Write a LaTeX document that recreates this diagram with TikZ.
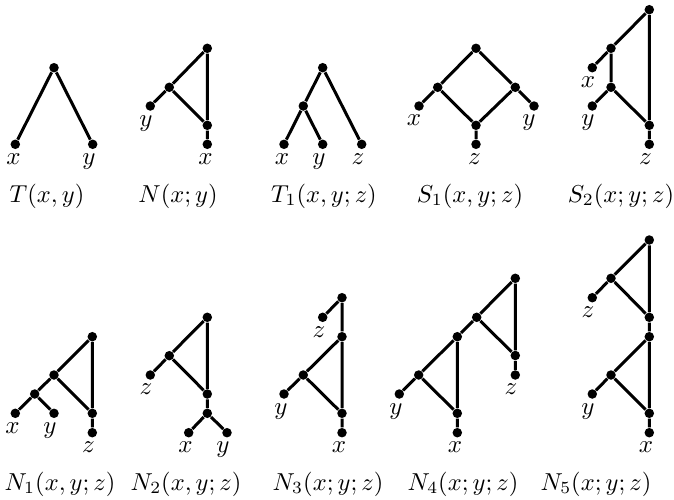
\documentclass[tikz,border=0pt]{standalone}
\tikzset{
  dot/.style={circle,fill=black,inner sep=0pt,minimum size=3.8pt},
  ln/.style={line width=1.2pt,black},
  lab/.style={inner sep=0pt,anchor=base},
  captxt/.style={inner sep=0pt,anchor=center,scale=0.98,transform shape}
}
\begin{document}
\begin{tikzpicture}[x=0.4pt,y=-0.4pt]
\useasboundingbox (0,0) rectangle (674,500);
% ---------- T(x,y)
\node[dot] (Tr) at (54,67.7) {};
\node[dot] (Tx) at (15.3,144.3) {};
\node[dot] (Ty) at (92.7,144.3) {};
\draw[ln] (Tr) -- (Tx) (Tr) -- (Ty);
\node[lab] (Tlx) at (13.5,164) {$x$};
\node[lab] (Tly) at (89,164) {$y$};
\node[captxt] (Tc) at (47,196) {$T(x,y)$};
% ---------- N(x;y)
\node[dot] (Nr) at (207.3,48.3) {};
\node[dot] (Na) at (169.3,87.3) {};
\node[dot] (Ny) at (150.3,106) {};
\node[dot] (Nb) at (207.3,125.3) {};
\node[dot] (Nx) at (207.3,144.3) {};
\draw[ln] (Nr) -- (Na) (Na) -- (Ny) (Na) -- (Nb) (Nr) -- (Nb) (Nb) -- (Nx);
\node[lab] (Nly) at (146,126) {$y$};
\node[lab] (Nlx) at (205.5,164) {$x$};
\node[captxt] (Nc) at (178,196) {$N(x;y)$};
% ---------- T1(x,y;z)
\node[dot] (Ar) at (322.7,67.7) {};
\node[dot] (Aa) at (303.3,106) {};
\node[dot] (Ax) at (284,144.3) {};
\node[dot] (Ay) at (322.7,144.3) {};
\node[dot] (Az) at (361.7,144.3) {};
\draw[ln] (Ar) -- (Aa) (Aa) -- (Ax) (Aa) -- (Ay) (Ar) -- (Az);
\node[lab] (Alx) at (282,164) {$x$};
\node[lab] (Aly) at (319,164) {$y$};
\node[lab] (Alz) at (358,164) {$z$};
\node[captxt] (Ac) at (324,196) {$T_1(x,y;z)$};
% ---------- S1(x,y;z)
\node[dot] (Sr) at (476,48.3) {};
\node[dot] (Sa) at (437.7,87.3) {};
\node[dot] (Sb) at (515.3,87.3) {};
\node[dot] (Sx) at (419,106) {};
\node[dot] (Sy) at (534,106) {};
\node[dot] (Sc) at (476,125.3) {};
\node[dot] (Sz) at (476,144.3) {};
\draw[ln] (Sr) -- (Sa) (Sr) -- (Sb) (Sa) -- (Sx) (Sb) -- (Sy) (Sa) -- (Sc) (Sb) -- (Sc) (Sc) -- (Sz);
\node[lab] (Slx) at (414,125) {$x$};
\node[lab] (Sly) at (529,125) {$y$};
\node[lab] (Slz) at (474.5,164) {$z$};
\node[captxt] (Scap) at (470,196) {$S_1(x,y;z)$};
% ---------- S2(x;y;z)
\node[dot] (Qr) at (649.3,9.7) {};
\node[dot] (Qa) at (611,48.3) {};
\node[dot] (Qx) at (592.3,67.7) {};
\node[dot] (Qb) at (611,87.3) {};
\node[dot] (Qy) at (592.3,106) {};
\node[dot] (Qc) at (649.3,125.3) {};
\node[dot] (Qz) at (649.3,144.3) {};
\draw[ln] (Qr) -- (Qa) (Qa) -- (Qx) (Qa) -- (Qb) (Qb) -- (Qy) (Qb) -- (Qc) (Qr) -- (Qc) (Qc) -- (Qz);
\node[lab] (Qlx) at (588,87) {$x$};
\node[lab] (Qly) at (588,125) {$y$};
\node[lab] (Qlz) at (645.5,164) {$z$};
\node[captxt] (Qcap) at (621,196) {$S_2(x;y;z)$};
% ---------- N1(x,y;z)
\node[dot] (Br) at (92.3,336.7) {};
\node[dot] (Ba) at (54,375) {};
\node[dot] (Bb) at (34.7,394) {};
\node[dot] (Bx) at (15.3,413.3) {};
\node[dot] (By) at (54,413.3) {};
\node[dot] (Bc) at (92.3,413.3) {};
\node[dot] (Bz) at (92.3,432.7) {};
\draw[ln] (Br) -- (Ba) (Ba) -- (Bb) (Bb) -- (Bx) (Bb) -- (By) (Ba) -- (Bc) (Br) -- (Bc) (Bc) -- (Bz);
\node[lab] (Blx) at (12.5,433) {$x$};
\node[lab] (Bly) at (50,433) {$y$};
\node[lab] (Blz) at (88.5,452) {$z$};
\node[captxt] (Bcap) at (60,484) {$N_1(x,y;z)$};
% ---------- N2(x,y;z)
\node[dot] (Cr) at (207.3,317.3) {};
\node[dot] (Ca) at (169.3,355.7) {};
\node[dot] (Cz) at (150.3,375) {};
\node[dot] (Cb) at (207.3,394) {};
\node[dot] (Cc) at (207.3,413.3) {};
\node[dot] (Cx) at (188.7,432.7) {};
\node[dot] (Cy) at (227,432.7) {};
\draw[ln] (Cr) -- (Ca) (Ca) -- (Cz) (Ca) -- (Cb) (Cr) -- (Cb) (Cb) -- (Cc) (Cc) -- (Cx) (Cc) -- (Cy);
\node[lab] (Clz) at (146,394) {$z$};
\node[lab] (Clx) at (185.5,452) {$x$};
\node[lab] (Cly) at (223,452) {$y$};
\node[captxt] (Ccap) at (186,484) {$N_2(x,y;z)$};
% ---------- N3(x;y;z)
\node[dot] (Dr) at (342,297.7) {};
\node[dot] (Dz) at (322.7,317.3) {};
\node[dot] (Db) at (342,336.7) {};
\node[dot] (Da) at (303.3,375) {};
\node[dot] (Dy) at (284,394) {};
\node[dot] (Dc) at (342,413.3) {};
\node[dot] (Dx) at (342,432.7) {};
\draw[ln] (Dr) -- (Dz) (Dr) -- (Db) (Db) -- (Da) (Da) -- (Dy) (Da) -- (Dc) (Db) -- (Dc) (Dc) -- (Dx);
\node[lab] (Dlz) at (319,337) {$z$};
\node[lab] (Dly) at (281,414) {$y$};
\node[lab] (Dlx) at (339,452) {$x$};
\node[captxt] (Dcap) at (328,484) {$N_3(x;y;z)$};
% ---------- N4(x;y;z)
\node[dot] (Er) at (515.3,278.3) {};
\node[dot] (Ea) at (476.7,317.3) {};
\node[dot] (Eb) at (457.3,336.7) {};
\node[dot] (Ee) at (515.3,355.5) {};
\node[dot] (Ec) at (418.7,375) {};
\node[dot] (Ez) at (515.3,375) {};
\node[dot] (Ey) at (399.3,394) {};
\node[dot] (Ed) at (457.3,413.3) {};
\node[dot] (Ex) at (457.3,432.7) {};
\draw[ln] (Er) -- (Ea) (Ea) -- (Eb) (Eb) -- (Ec) (Ec) -- (Ey) (Ec) -- (Ed) (Eb) -- (Ed) (Ed) -- (Ex) (Ea) -- (Ee) (Er) -- (Ee) (Ee) -- (Ez);
\node[lab] (Ely) at (396,414) {$y$};
\node[lab] (Elx) at (455,452) {$x$};
\node[lab] (Elz) at (511,394) {$z$};
\node[captxt] (Ecap) at (463,484) {$N_4(x;y;z)$};
% ---------- N5(x;y;z)
\node[dot] (Fr) at (649.3,240) {};
\node[dot] (Fa) at (611,278.3) {};
\node[dot] (Fz) at (592.3,297.7) {};
\node[dot] (Fb) at (649.3,317.3) {};
\node[dot] (Fc) at (649.3,336.7) {};
\node[dot] (Fd) at (611,375) {};
\node[dot] (Fy) at (592.3,394) {};
\node[dot] (Fe) at (649.3,413.3) {};
\node[dot] (Fx) at (649.3,432.7) {};
\draw[ln] (Fr) -- (Fa) (Fa) -- (Fz) (Fa) -- (Fb) (Fr) -- (Fb) (Fb) -- (Fc) (Fc) -- (Fd) (Fd) -- (Fy) (Fd) -- (Fe) (Fc) -- (Fe) (Fe) -- (Fx);
\node[lab] (Flz) at (588,317) {$z$};
\node[lab] (Fly) at (588,414) {$y$};
\node[lab] (Flx) at (646,452) {$x$};
\node[captxt] (Fcap) at (596,484) {$N_5(x;y;z)$};
\end{tikzpicture}
\end{document}
